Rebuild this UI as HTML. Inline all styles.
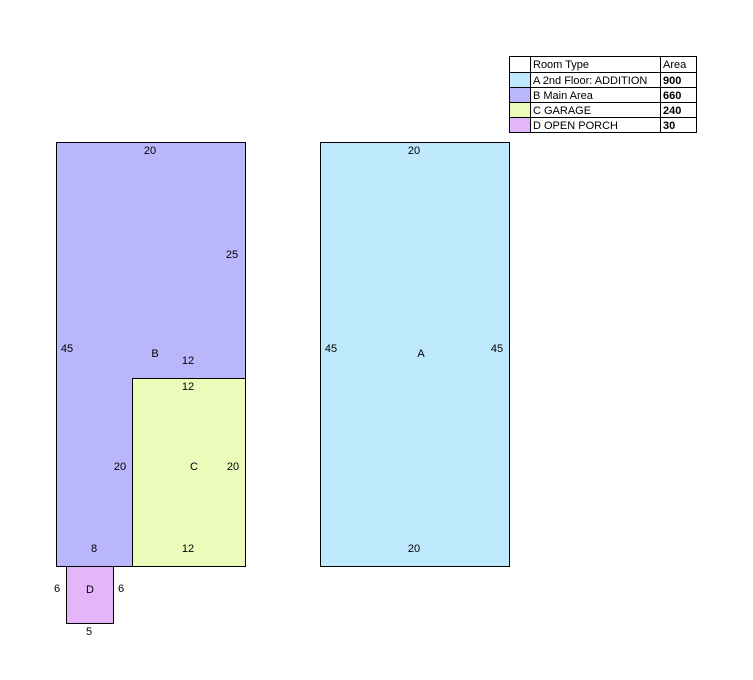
<!DOCTYPE html>
<html><head><style>body{margin:0;background:#fff}svg{display:block}text{font-family:"Liberation Sans",Arial,sans-serif;font-size:11px;fill:#000}</style></head><body>
<svg width="753" height="680" xmlns="http://www.w3.org/2000/svg">
<g stroke="#000" stroke-width="1">
<path d="M56.5 142.5H245.5V378.5H132.5V566.5H56.5Z" fill="#b9b6fc"/>
<rect x="132.5" y="378.5" width="113" height="188" fill="#edfbba"/>
<rect x="66.5" y="566.5" width="47" height="57" fill="#e4b6f9"/>
<rect x="320.5" y="142.5" width="189" height="424" fill="#bee9fd"/>
</g>
<g text-anchor="middle">
<text x="150" y="154">20</text><text x="232" y="258">25</text><text x="67" y="352">45</text>
<text x="155" y="357">B</text><text x="188" y="364">12</text><text x="188" y="390">12</text>
<text x="120" y="470">20</text><text x="194" y="470">C</text><text x="233" y="470">20</text>
<text x="94" y="552">8</text><text x="188" y="552">12</text>
<text x="57" y="592">6</text><text x="90" y="593">D</text><text x="121" y="592">6</text><text x="89" y="635">5</text>
<text x="414" y="154">20</text><text x="331" y="352">45</text><text x="421" y="357">A</text><text x="497" y="352">45</text><text x="414" y="552">20</text>
</g>
<g stroke="#000" stroke-width="1">
<rect x="509.5" y="56.5" width="187" height="76" fill="#fff"/>
<rect x="509.5" y="72.5" width="21" height="15" fill="#bee9fd"/>
<rect x="509.5" y="87.5" width="21" height="15" fill="#b9b6fc"/>
<rect x="509.5" y="102.5" width="21" height="15" fill="#edfbba"/>
<rect x="509.5" y="117.5" width="21" height="15" fill="#e4b6f9"/>
<path d="M509.5 72.5H696.5M509.5 87.5H696.5M509.5 102.5H696.5M509.5 117.5H696.5M530.5 56.5V132.5M660.5 56.5V132.5" fill="none"/>
</g>
<g style="font-size:10.5px">
<text x="533" y="68">Room Type</text><text x="663" y="68">Area</text>
<text x="533" y="84">A 2nd Floor: ADDITION</text><text x="663" y="84" font-weight="bold">900</text>
<text x="533" y="99">B Main Area</text><text x="663" y="99" font-weight="bold">660</text>
<text x="533" y="114">C GARAGE</text><text x="663" y="114" font-weight="bold">240</text>
<text x="533" y="129">D OPEN PORCH</text><text x="663" y="129" font-weight="bold">30</text>
</g>
</svg>
</body></html>
